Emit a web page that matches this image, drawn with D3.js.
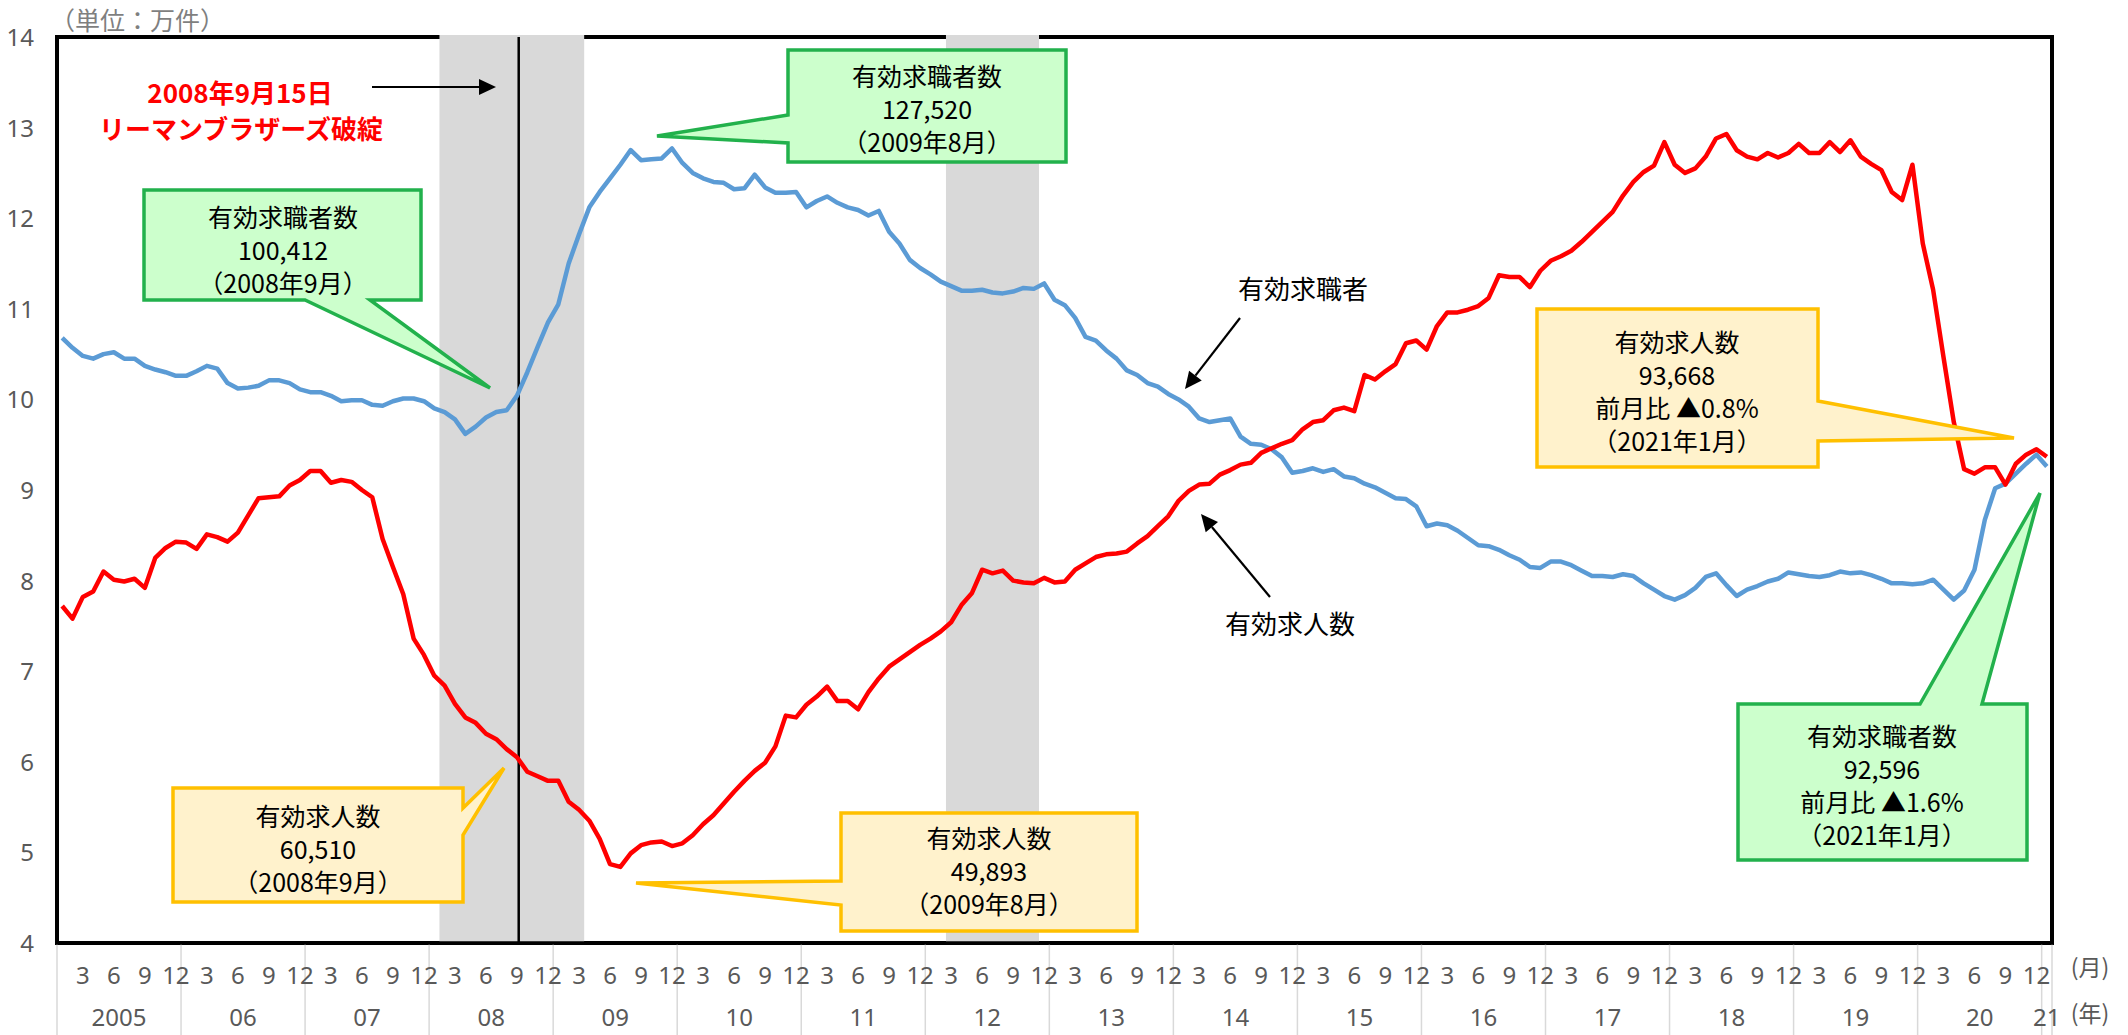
<!DOCTYPE html>
<html>
<head>
<meta charset="utf-8">
<script src="https://cdn.jsdelivr.net/npm/d3@7"></script>
<style>
  html, body { margin: 0; padding: 0; background: #fff; }
  svg { display: block; }
  text { font-family: "Noto Sans CJK JP", "Noto Sans", sans-serif; }
  .num { font-family: "Liberation Sans Narrow", "Noto Sans", sans-serif; }
</style>
</head>
<body>
<svg id="chart" width="2128" height="1035"></svg>
<script>
// ---- data -------------------------------------------------------------
// Monthly categories, Jan 2005 .. Jan 2021
const startYear = 2005;
const monthCount = 193;
const yearLabels = ["2005","06","07","08","09","10","11","12","13","14","15","16","17","18","19","20","21"];
const monthTickLabels = [3, 6, 9, 12];
const yTicks = [4, 5, 6, 7, 8, 9, 10, 11, 12, 13, 14];

// 有効求職者 (万件)
const jobSeekers = [
  10.68,10.57,10.48,10.45,10.50,10.52,10.45,10.45,10.37,10.33,10.30,10.26,
  10.26,10.31,10.37,10.34,10.18,10.12,10.13,10.15,10.21,10.21,10.18,10.11,
  10.08,10.08,10.04,9.98,9.99,9.99,9.94,9.93,9.98,10.01,10.01,9.98,
  9.90,9.86,9.78,9.62,9.70,9.80,9.86,9.88,10.0412,10.30,10.58,10.85,
  11.05,11.50,11.82,12.12,12.29,12.44,12.59,12.752,12.64,12.65,12.66,12.77,
  12.61,12.50,12.44,12.40,12.39,12.32,12.33,12.48,12.34,12.28,12.28,12.29,
  12.12,12.19,12.24,12.17,12.12,12.09,12.03,12.08,11.85,11.72,11.54,11.45,
  11.38,11.30,11.25,11.20,11.20,11.21,11.18,11.17,11.19,11.23,11.22,11.28,
  11.10,11.04,10.90,10.69,10.65,10.54,10.45,10.32,10.27,10.18,10.14,10.06,
  10.00,9.92,9.79,9.75,9.77,9.79,9.59,9.51,9.50,9.45,9.36,9.19,
  9.21,9.24,9.20,9.23,9.15,9.13,9.07,9.03,8.97,8.91,8.90,8.82,
  8.60,8.63,8.61,8.55,8.47,8.39,8.38,8.34,8.28,8.23,8.15,8.14,
  8.21,8.21,8.17,8.11,8.05,8.05,8.04,8.07,8.05,7.97,7.90,7.83,
  7.79,7.84,7.92,8.04,8.08,7.95,7.83,7.90,7.94,7.99,8.02,8.09,
  8.07,8.05,8.04,8.06,8.10,8.08,8.09,8.06,8.02,7.97,7.97,7.96,
  7.97,8.01,7.90,7.79,7.89,8.12,8.67,9.02,9.07,9.18,9.29,9.39,
  9.2596
];

// 有効求人数 (万件)
const jobOpenings = [
  7.72,7.58,7.82,7.88,8.10,8.01,7.99,8.02,7.92,8.25,8.36,8.43,
  8.42,8.35,8.51,8.48,8.43,8.53,8.72,8.91,8.92,8.93,9.05,9.11,
  9.21,9.21,9.08,9.11,9.09,9.00,8.92,8.46,8.15,7.85,7.36,7.18,
  6.95,6.84,6.64,6.49,6.43,6.31,6.25,6.14,6.051,5.89,5.84,5.79,
  5.79,5.56,5.47,5.35,5.15,4.87,4.84,4.9893,5.08,5.11,5.12,5.07,
  5.10,5.19,5.31,5.41,5.54,5.67,5.79,5.90,5.99,6.17,6.51,6.49,
  6.63,6.72,6.83,6.67,6.67,6.58,6.77,6.92,7.05,7.13,7.21,7.29,
  7.36,7.44,7.54,7.73,7.86,8.12,8.08,8.11,8.00,7.98,7.97,8.03,
  7.98,7.99,8.12,8.19,8.26,8.29,8.30,8.32,8.41,8.49,8.60,8.71,
  8.88,8.99,9.06,9.07,9.17,9.22,9.28,9.30,9.41,9.46,9.51,9.55,
  9.67,9.75,9.77,9.88,9.91,9.87,10.27,10.22,10.31,10.39,10.62,10.65,
  10.55,10.81,10.96,10.96,10.99,11.03,11.12,11.37,11.35,11.35,11.24,11.42,
  11.53,11.58,11.64,11.74,11.85,11.96,12.07,12.25,12.40,12.51,12.58,12.84,
  12.59,12.50,12.55,12.68,12.88,12.93,12.75,12.68,12.65,12.72,12.67,12.72,
  12.82,12.72,12.72,12.84,12.73,12.86,12.68,12.60,12.53,12.29,12.20,12.59,
  11.72,11.21,10.47,9.75,9.23,9.18,9.25,9.25,9.06,9.29,9.39,9.45,
  9.3668
];

// Shaded recession periods (first and last month, inclusive)
const recessionStarts = ["2008-02", "2012-03"];
const recessionEnds   = ["2009-03", "2012-11"];
const lehmanMonth = "2008-09";
const lehmanDay = 15;

// ---- helpers ----------------------------------------------------------
const monthKey = i => {
  const y = startYear + Math.floor(i / 12);
  const m = (i % 12) + 1;
  return `${y}-${String(m).padStart(2, "0")}`;
};
const months = d3.range(monthCount).map(monthKey);

const W = 2128, H = 1035;
const plot = { left: 57, right: 2052, top: 37, bottom: 943 };

const svg = d3.select("#chart");

const x = d3.scaleBand().domain(months).range([plot.left, plot.right]).padding(0);
const y = d3.scaleLinear().domain([4, 14]).range([plot.bottom, plot.top]);
const bw = x.bandwidth();
const cx = k => x(k) + bw / 2;

const axisGray = "#595959";

// ---- plot frame --------------------------------------------------------
svg.append("rect")
  .attr("x", plot.left).attr("y", plot.top)
  .attr("width", plot.right - plot.left).attr("height", plot.bottom - plot.top)
  .attr("fill", "#fff").attr("stroke", "#000").attr("stroke-width", 4);

// recession shading
svg.append("g").selectAll("rect")
  .data(d3.zip(recessionStarts, recessionEnds))
  .join("rect")
  .attr("x", d => x(d[0]))
  .attr("width", d => x(d[1]) + bw - x(d[0]))
  .attr("y", plot.top - 2)
  .attr("height", plot.bottom - plot.top + 1)
  .attr("fill", "#d9d9d9");

// Lehman collapse marker (placed at the day within the month)
const lehmanX = x(lehmanMonth) + bw * (lehmanDay + 5) / 30;
svg.append("line")
  .attr("x1", lehmanX).attr("x2", lehmanX)
  .attr("y1", plot.top).attr("y2", plot.bottom)
  .attr("stroke", "#000").attr("stroke-width", 2.5);

// ---- y axis -------------------------------------------------------------
const yAxis = d3.axisLeft(y).tickValues(yTicks).tickSize(0).tickPadding(0).tickFormat(d3.format("d"));
const yg = svg.append("g").attr("transform", `translate(${plot.left - 23},0)`).call(yAxis);
yg.select(".domain").remove();
yg.selectAll("text")
  .attr("class", "num")
  .attr("fill", axisGray)
  .style("font-size", "24px")
  .attr("dy", "0.35em");

// ---- x axis (two-level: month / year) -----------------------------------
const xg = svg.append("g");
// year separators below the axis
const yearStarts = yearLabels.map((_, j) => monthKey(j * 12)).filter(k => months.includes(k));
xg.selectAll("line.sep")
  .data(yearStarts)
  .join("line")
  .attr("class", "sep")
  .attr("x1", d => x(d)).attr("x2", d => x(d))
  .attr("y1", plot.bottom).attr("y2", H)
  .attr("stroke", "#d9d9d9").attr("stroke-width", 1.5);
xg.append("line")
  .attr("x1", plot.right).attr("x2", plot.right)
  .attr("y1", plot.bottom).attr("y2", H)
  .attr("stroke", "#d9d9d9").attr("stroke-width", 1.5);

const monthTicks = months.filter(k => monthTickLabels.includes(+k.slice(5)));
xg.selectAll("text.m")
  .data(monthTicks)
  .join("text")
  .attr("class", "m num")
  .attr("x", d => cx(d))
  .attr("y", 974)
  .attr("text-anchor", "middle")
  .attr("dominant-baseline", "central")
  .attr("fill", axisGray)
  .style("font-size", "24px")
  .text(d => +d.slice(5));

xg.selectAll("text.yr")
  .data(yearLabels)
  .join("text")
  .attr("class", "yr num")
  .attr("x", (d, j) => {
    const first = monthKey(j * 12);
    const lastIdx = Math.min(j * 12 + 11, monthCount - 1);
    const last = monthKey(lastIdx);
    return (x(first) + x(last) + bw) / 2;
  })
  .attr("y", 1016)
  .attr("text-anchor", "middle")
  .attr("dominant-baseline", "central")
  .attr("fill", axisGray)
  .style("font-size", "24px")
  .text(d => d);

svg.append("text").attr("x", 2090).attr("y", 966)
  .attr("text-anchor", "middle").attr("dominant-baseline", "central")
  .attr("fill", axisGray).style("font-size", "23px").text("(月)");
svg.append("text").attr("x", 2090).attr("y", 1012)
  .attr("text-anchor", "middle").attr("dominant-baseline", "central")
  .attr("fill", axisGray).style("font-size", "23px").text("(年)");

svg.append("text").attr("x", 50).attr("y", 19)
  .attr("dominant-baseline", "central")
  .attr("fill", "#7f7f7f").style("font-size", "25px").text("（単位：万件）");

// ---- series -------------------------------------------------------------
const line = d3.line().x(d => cx(d[0])).y(d => y(d[1]));
svg.append("path")
  .datum(d3.zip(months, jobSeekers))
  .attr("d", line)
  .attr("fill", "none").attr("stroke", "#5b9bd5")
  .attr("stroke-width", 4.5).attr("stroke-linejoin", "round");
svg.append("path")
  .datum(d3.zip(months, jobOpenings))
  .attr("d", line)
  .attr("fill", "none").attr("stroke", "#ff0000")
  .attr("stroke-width", 4.5).attr("stroke-linejoin", "round");

// bottom axis line on top of the shading
svg.append("line")
  .attr("x1", plot.left - 2).attr("x2", plot.right + 2)
  .attr("y1", plot.bottom).attr("y2", plot.bottom)
  .attr("stroke", "#000").attr("stroke-width", 3.5);

// ---- annotations --------------------------------------------------------
function arrow(x1, y1, x2, y2) {
  const ang = Math.atan2(y2 - y1, x2 - x1);
  const L = 17, Wd = 8;
  const bx = x2 - L * Math.cos(ang), by = y2 - L * Math.sin(ang);
  svg.append("line").attr("x1", x1).attr("y1", y1).attr("x2", bx).attr("y2", by)
    .attr("stroke", "#000").attr("stroke-width", 2.2);
  const px = -Math.sin(ang) * Wd, py = Math.cos(ang) * Wd;
  svg.append("path")
    .attr("d", `M${x2},${y2}L${bx + px},${by + py}L${bx - px},${by - py}Z`)
    .attr("fill", "#000");
}

const green = { fill: "#ccffcc", stroke: "#22b14c" };
const yellow = { fill: "#fff2cc", stroke: "#ffc000" };

// Callout box with pointer and centred lines of text
function callout(pathD, style, cxText, firstLineY, lines) {
  svg.append("path").attr("d", pathD)
    .attr("fill", style.fill).attr("stroke", style.stroke)
    .attr("stroke-width", 3.5).attr("stroke-linejoin", "miter");
  lines.forEach((s, i) => {
    svg.append("text")
      .attr("x", cxText).attr("y", firstLineY + i * 33)
      .attr("text-anchor", "middle").attr("dominant-baseline", "central")
      .attr("fill", "#000").style("font-size", "25px")
      .text(s);
  });
}

// Lehman text (two lines) and arrow
svg.append("text").attr("x", 240).attr("y", 91)
  .attr("text-anchor", "middle").attr("dominant-baseline", "central")
  .attr("fill", "#ff0000").style("font-size", "26px").style("font-weight", "bold")
  .text("2008年9月15日");
svg.append("text").attr("x", 241).attr("y", 127)
  .attr("text-anchor", "middle").attr("dominant-baseline", "central")
  .attr("fill", "#ff0000").style("font-size", "26px").style("font-weight", "bold")
  .text("リーマンブラザーズ破綻");
arrow(372, 87, 496, 87);

// series labels with arrows
svg.append("text").attr("x", 1303).attr("y", 287)
  .attr("text-anchor", "middle").attr("dominant-baseline", "central")
  .style("font-size", "26px").attr("fill", "#000").text("有効求職者");
arrow(1240, 318, 1185, 389);
svg.append("text").attr("x", 1290).attr("y", 622)
  .attr("text-anchor", "middle").attr("dominant-baseline", "central")
  .style("font-size", "26px").attr("fill", "#000").text("有効求人数");
arrow(1270, 597, 1201, 514);

// callouts
callout("M144,190H421V300H370L490,388L305,300H144Z", green, 283, 216,
  ["有効求職者数", "100,412", "（2008年9月）"]);
callout("M788,50H1066V162H788V143L657,136L788,115Z", green, 927, 75,
  ["有効求職者数", "127,520", "（2009年8月）"]);
callout("M173,788H463V808L504,768L463,835V902H173Z", yellow, 318, 815,
  ["有効求人数", "60,510", "（2008年9月）"]);
callout("M841,813H1137V931H841V905L636,883L841,881Z", yellow, 989, 837,
  ["有効求人数", "49,893", "（2009年8月）"]);
callout("M1537,309H1818V401L2014,438L1818,441V467H1537Z", yellow, 1677, 341,
  ["有効求人数", "93,668", "前月比 ▲0.8%", "（2021年1月）"]);
callout("M1738,704H1920L2040,493L1982,704H2027V860H1738Z", green, 1882, 735,
  ["有効求職者数", "92,596", "前月比 ▲1.6%", "（2021年1月）"]);
</script>
</body>
</html>
